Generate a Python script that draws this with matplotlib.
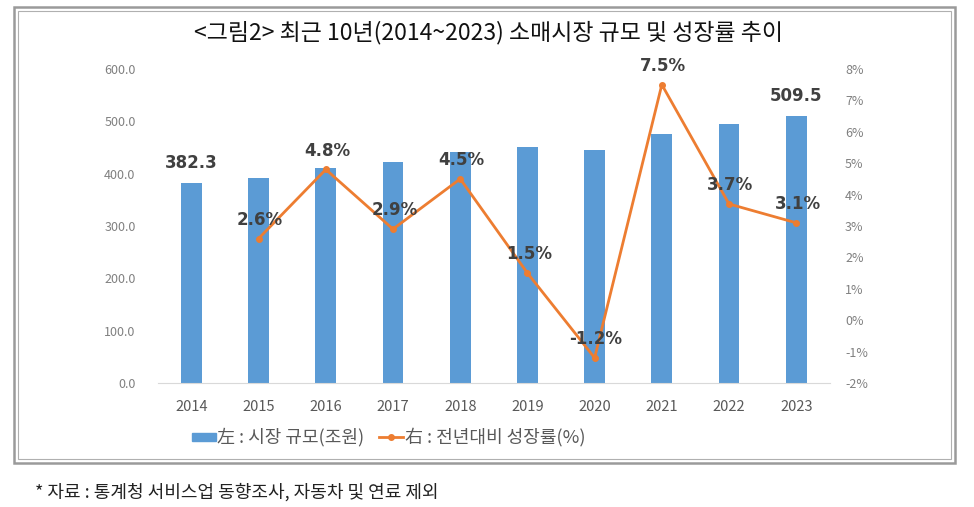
import numpy as np
import matplotlib.pyplot as plt
from matplotlib.patches import Rectangle
from matplotlib.lines import Line2D

plt.rcParams['font.family'] = ['Noto Sans CJK KR', 'DejaVu Sans']

years = ['2014', '2015', '2016', '2017', '2018', '2019', '2020', '2021', '2022', '2023']
market_size = [382.3, 392.5, 410.0, 423.0, 442.0, 450.0, 444.5, 476.5, 494.5, 509.5]
growth = [np.nan, 2.6, 4.8, 2.9, 4.5, 1.5, -1.2, 7.5, 3.7, 3.1]
size_labels = {0: '382.3', 9: '509.5'}

bar_color = '#5B9BD5'
line_color = '#ED7D31'
label_color = '#404040'

fig = plt.figure(figsize=(9.74, 5.07), dpi=100)
ax = fig.add_axes([0.162, 0.2446, 0.69, 0.6194])
ax2 = ax.twinx()

x = np.arange(len(years))
ax.bar(x, market_size, width=0.31, color=bar_color, zorder=2)
ax.set_ylim(0, 600)
ax.set_xlim(-0.5, 9.5)
ax.set_yticks(np.arange(0, 601, 100))
ax.set_yticklabels(['%.1f' % v for v in np.arange(0, 601, 100)])
ax.set_xticks(x)
ax.set_xticklabels(years)

for i, txt in size_labels.items():
    ax.annotate(txt, (x[i], market_size[i]), xytext=(0, 8), textcoords='offset points',
                ha='center', va='bottom', fontsize=12, fontweight='bold',
                color=label_color, family='DejaVu Sans')

ax2.plot(x, growth, color=line_color, lw=2, marker='o', ms=4, zorder=3)
ax2.set_ylim(-2, 8)
ax2.set_yticks(np.arange(-2, 9, 1))
ax2.set_yticklabels(['%d%%' % v for v in np.arange(-2, 9, 1)])

for i, g in enumerate(growth):
    if np.isnan(g):
        continue
    ax2.annotate('%.1f%%' % g, (x[i], g), xytext=(1, 7), textcoords='offset points',
                 ha='center', va='bottom', fontsize=12, fontweight='bold',
                 color=label_color, family='DejaVu Sans')

for a in (ax, ax2):
    for s in a.spines.values():
        s.set_visible(False)
    a.tick_params(length=0)
ax.spines['bottom'].set_visible(True)
ax.spines['bottom'].set_color('#d9d9d9')
ax.tick_params(axis='y', labelsize=9, labelcolor='#808080', pad=16)
ax.tick_params(axis='x', labelsize=10.5, labelcolor='#595959', pad=12)
ax2.tick_params(axis='y', labelsize=9, labelcolor='#808080', pad=11)

fig.text(0.502, 0.935, '<그림2> 최근 10년(2014~2023) 소매시장 규모 및 성장률 추이',
         ha='center', va='center', fontsize=16.5, color='#111111')

# legend
fig.patches.append(Rectangle((0.197, 0.131), 0.025, 0.014, transform=fig.transFigure,
                             color=bar_color, figure=fig))
fig.text(0.223, 0.138, '左 : 시장 규모(조원)', ha='left', va='center', fontsize=13, color='#595959')
fig.lines.append(Line2D([0.389, 0.414], [0.138, 0.138], transform=fig.transFigure,
                        color=line_color, lw=2, figure=fig))
fig.lines.append(Line2D([0.4015], [0.138], transform=fig.transFigure, color=line_color,
                        marker='o', ms=4, figure=fig))
fig.text(0.416, 0.138, '右 : 전년대비 성장률(%)', ha='left', va='center', fontsize=13, color='#595959')

# double frame
fig.patches.append(Rectangle((14 / 974, 1 - 463 / 507), 941 / 974, 456 / 507,
                             transform=fig.transFigure, fill=False, ec='#9a9a9a', lw=1.8, figure=fig))
fig.patches.append(Rectangle((18 / 974, 1 - 459 / 507), 933 / 974, 448 / 507,
                             transform=fig.transFigure, fill=False, ec='#b0b0b0', lw=0.8, figure=fig))

fig.text(0.036, 0.029, '* 자료 : 통계청 서비스업 동향조사, 자동차 및 연료 제외',
         ha='left', va='center', fontsize=13, color='#222222')

fig.savefig('out.png', dpi=100)
